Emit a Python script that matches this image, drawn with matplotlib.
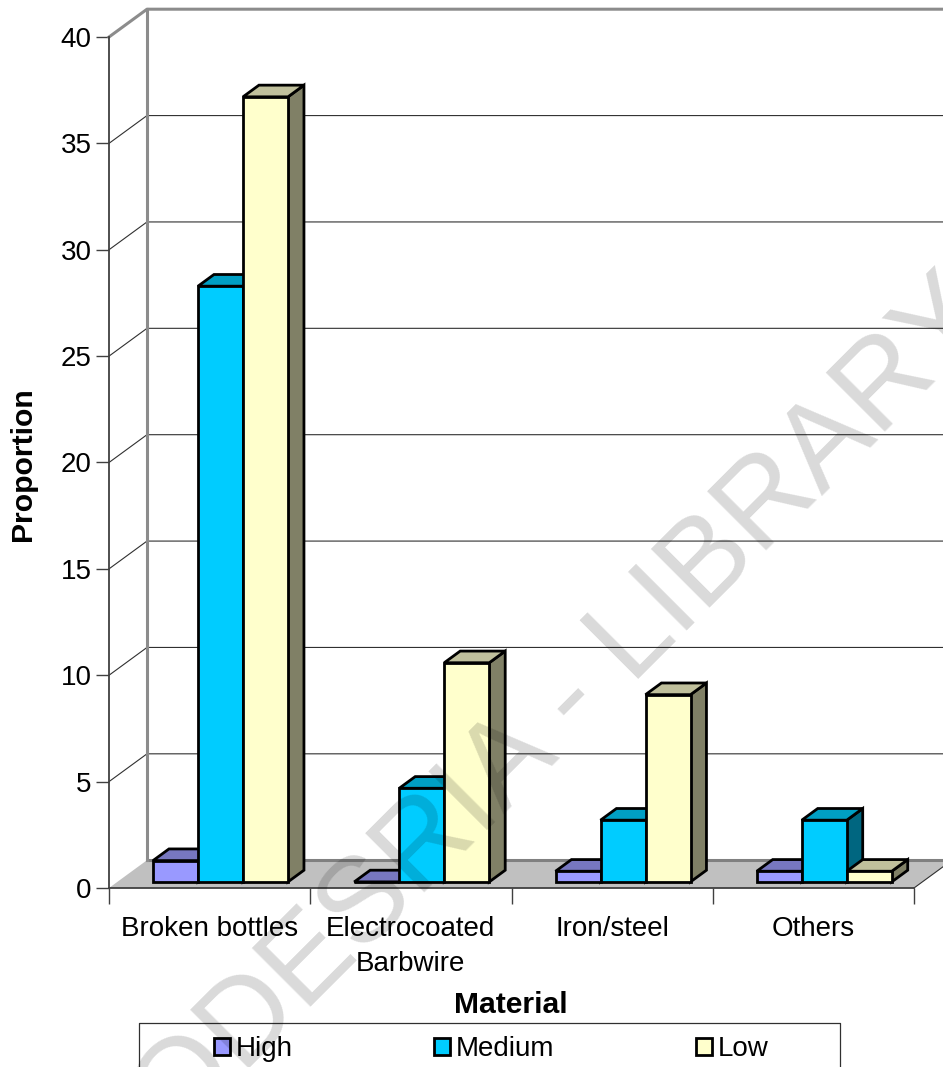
import matplotlib
matplotlib.use('Agg')
import matplotlib.pyplot as plt
from matplotlib.patches import Polygon, Patch
from matplotlib.lines import Line2D

plt.rcParams['font.family'] = ['Liberation Sans', 'DejaVu Sans']

categories = ['Broken bottles', 'Electrocoated\nBarbwire', 'Iron/steel', 'Others']
high = [1.0, 0.0, 0.5, 0.5]
medium = [28.0, 4.4, 2.9, 2.9]
low = [36.9, 10.3, 8.8, 0.5]
series_names = ['High', 'Medium', 'Low']
yticks = [0, 5, 10, 15, 20, 25, 30, 35, 40]

# front, top and side shades of each series
shades = [('#9999ff', '#7777c0', '#4d4d80'),
          ('#00ccff', '#009fc4', '#006680'),
          ('#ffffcc', '#c0c09c', '#808066')]

W, H = 943, 1067
fig = plt.figure(figsize=(W / 100, H / 100), dpi=100)
ax = fig.add_axes([109 / W, 1 - 888 / H, 805 / W, 851 / H])
ax.set_xlim(0, 4)
ax.set_ylim(0, 40)
ax.patch.set_visible(False)

# fake 3d depth in data units
wall_dx = 38 / 201.25
wall_dy = 27.8 / 21.275
bar_start = 0.22   # bars stand this far into the floor, as a share of the depth
bar_depth = 0.42
bar_w = 45 / 201.25
bar_gap = 44 / 201.25 - wall_dx * bar_start

GREY = '#8c8c8c'
DARK = '#404040'


def poly(pts, fc, z, ec='black', lw=2.0):
    ax.add_patch(Polygon(pts, closed=True, fc=fc, ec=ec, lw=lw, zorder=z,
                         clip_on=False, joinstyle='miter'))


def wall_line(xs, ys, c, lw, z=2):
    ax.add_line(Line2D(xs, ys, color=c, lw=lw, zorder=z, clip_on=False))


# floor
poly([(0, 0), (4, 0), (4 + wall_dx, wall_dy), (wall_dx, wall_dy)], '#c0c0c0', 1, ec='none', lw=0)

# gridlines on the two walls
for v in yticks[1:-1]:
    wall_line([0, wall_dx, 4 + wall_dx], [v, v + wall_dy, v + wall_dy], '#303030', 0.8)
wall_line([wall_dx, 4 + wall_dx], [wall_dy, wall_dy], '#808080', 2.2)
wall_line([wall_dx, wall_dx], [wall_dy, 40 + wall_dy], GREY, 2.2)
wall_line([0, wall_dx, 4 + wall_dx], [40, 40 + wall_dy, 40 + wall_dy], GREY, 2.2)
wall_line([4, 4 + wall_dx], [0, wall_dy], '#303030', 0.8)


def draw_bar(x, v, shade, z):
    fx = x + wall_dx * bar_start
    fy = wall_dy * bar_start
    dx = wall_dx * bar_depth
    dy = wall_dy * bar_depth
    # side, top, front
    poly([(fx + bar_w, fy), (fx + bar_w + dx, fy + dy),
          (fx + bar_w + dx, fy + v + dy), (fx + bar_w, fy + v)], shade[2], z)
    poly([(fx, fy + v), (fx + dx, fy + v + dy),
          (fx + bar_w + dx, fy + v + dy), (fx + bar_w, fy + v)], shade[1], z)
    poly([(fx, fy), (fx + bar_w, fy), (fx + bar_w, fy + v), (fx, fy + v)], shade[0], z)


for i in range(len(categories)):
    for j, vals in enumerate([high, medium, low]):
        draw_bar(i + bar_gap + j * bar_w, vals[i], shades[j], 3 + i * 3 + j)

# axes
for s in ['top', 'right']:
    ax.spines[s].set_visible(False)
for s in ['left', 'bottom']:
    ax.spines[s].set_color(DARK)
    ax.spines[s].set_linewidth(1.3)
    ax.spines[s].set_zorder(2)
ax.set_yticks(yticks)
ax.tick_params(axis='y', length=9.5, width=1, color=DARK, labelsize=20, pad=3)
ax.set_xticks(range(5))
ax.set_xticklabels([])
ax.tick_params(axis='x', which='major', length=11.5, width=1, color=DARK)
ax.set_xticks([i + 0.5 for i in range(4)], minor=True)
ax.set_xticklabels(categories, minor=True, fontsize=20, linespacing=1.45)
ax.tick_params(axis='x', which='minor', length=0, pad=20)

fig.text(23 / W, 1 - 464 / H, 'Proportion', rotation=90, ha='center', va='center',
         fontsize=21.7, fontweight='bold')
fig.text(511 / W, 1 - 1005 / H, 'Material', ha='center', va='center',
         fontsize=21.7, fontweight='bold')

# legend, its box runs off the bottom edge
xs, ys = [139, 139, 840, 840], [1067, 1023, 1023, 1067]
fig.add_artist(Line2D([x / W for x in xs], [1 - y / H for y in ys], color='#303030', lw=0.9))
handles = [Patch(fc=shades[k][0], ec='black', lw=2.0) for k in range(3)]
fig.legend(handles, series_names, ncol=3, loc='center', bbox_to_anchor=(491 / W, 1 - 1049 / H),
           frameon=False, fontsize=20, handlelength=0.58, handleheight=0.58,
           handletextpad=0.2, columnspacing=5.1, borderpad=0, borderaxespad=0)

# watermark across the whole sheet
fig.text(114 / W, 1 - 1203 / H, 'CODESRIA - LIBRARY', rotation=45, rotation_mode='anchor',
         ha='left', va='baseline', fontsize=87, color='black', alpha=0.15, zorder=50)

fig.savefig('out.png', dpi=100)
